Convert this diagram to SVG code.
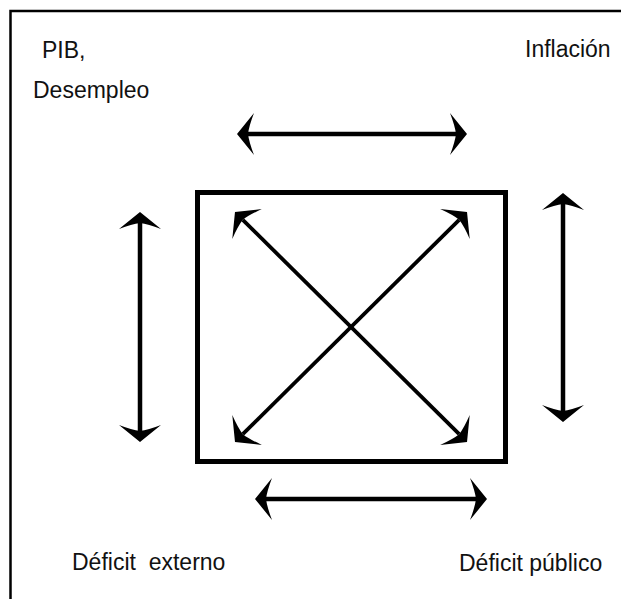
<svg xmlns="http://www.w3.org/2000/svg" width="621" height="599" viewBox="0 0 621 599">
  <style>
    .lbl { font-family: "Liberation Sans", Arial, sans-serif; font-size: 23px; fill: #111; white-space: pre; }
    .shaft { stroke: #000; fill: none; stroke-width: 4.5; marker-start: url(#head); marker-end: url(#head); }
    .diag { stroke-width: 3.8; }
  </style>
  <defs>
    <marker id="head" markerUnits="userSpaceOnUse" orient="auto-start-reverse" refX="0" refY="0" markerWidth="40" markerHeight="50" viewBox="-10 -25 40 50" overflow="visible">
      <path d="M11,0 L-6,-21 Q-1,-8 0,0 Q-1,8 -6,21 Z" fill="#000"/>
    </marker>
  </defs>
  <rect width="621" height="599" fill="#fff"/>
  <g id="frame">
    <path d="M10.5,599 V11 H621" fill="none" stroke="#000" stroke-width="2.5"/>
  </g>
  <g id="center-box">
    <rect x="197.5" y="192.5" width="308" height="269" fill="none" stroke="#000" stroke-width="5"/>
  </g>
  <g id="node-pib">
    <text class="lbl" x="42" y="58">PIB,</text>
    <text class="lbl" x="33" y="98">Desempleo</text>
  </g>
  <g id="node-inflacion">
    <text class="lbl" x="525" y="57">Inflación</text>
  </g>
  <g id="node-deficit-externo">
    <text class="lbl" x="72" y="570" xml:space="preserve">Déficit  externo</text>
  </g>
  <g id="node-deficit-publico">
    <text class="lbl" x="459" y="571">Déficit público</text>
  </g>
  <g id="connectors">
    <line class="shaft" x1="248" y1="134" x2="456" y2="134"/>
    <line class="shaft" x1="266" y1="499" x2="476" y2="499"/>
    <line class="shaft" x1="140" y1="223" x2="140" y2="431"/>
    <line class="shaft" x1="563" y1="204" x2="563" y2="411"/>
    <line class="shaft diag" x1="242.8" y1="219.8" x2="459.2" y2="434.2"/>
    <line class="shaft diag" x1="459.2" y1="219.8" x2="242.8" y2="434.2"/>
  </g>
</svg>
